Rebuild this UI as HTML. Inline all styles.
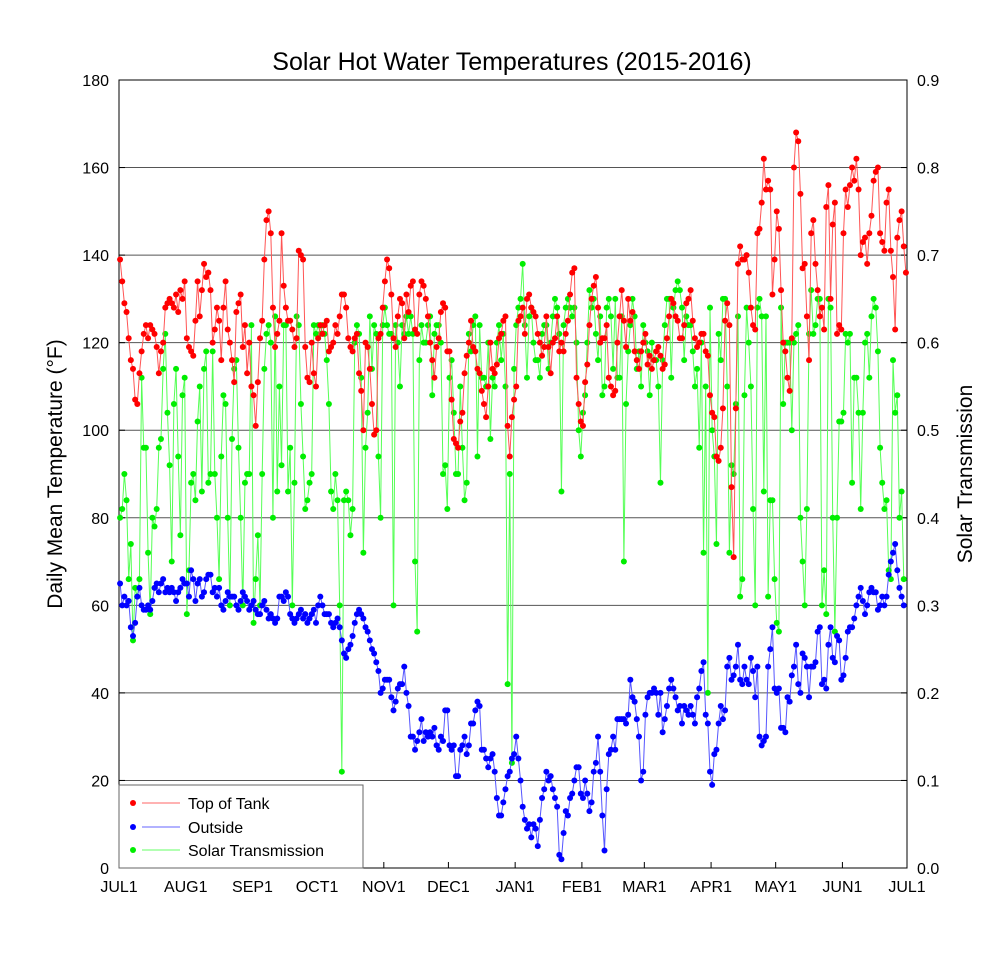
<!DOCTYPE html>
<html><head><meta charset="utf-8">
<style>
body{margin:0;background:#fff;font-family:"Liberation Sans",sans-serif;}
svg text{font-family:"Liberation Sans",sans-serif;fill:#000;}
</style></head>
<body>
<svg id="chart" width="1007" height="948" viewBox="0 0 1007 948" xmlns="http://www.w3.org/2000/svg">
<rect width="1007" height="948" fill="#fff"/>
<text x="512" y="70" font-size="25" text-anchor="middle">Solar Hot Water Temperatures (2015-2016)</text>
<g id="grid"></g>
<g id="axes"></g>
<g id="series"></g>
<text transform="translate(62,474) rotate(-90)" font-size="21" text-anchor="middle">Daily Mean Temperature (°F)</text>
<text transform="translate(972,474) rotate(-90)" font-size="21" text-anchor="middle">Solar Transmission</text>
<g>
<rect x="119" y="785" width="244" height="83" fill="#fff" stroke="#666" stroke-width="1"/>
<g><circle cx="133" cy="803" r="3" fill="#f00"/><line x1="142" y1="803" x2="180" y2="803" stroke="#f66"/><text x="188" y="809" font-size="16">Top of Tank</text></g>
<g><circle cx="133" cy="827" r="3" fill="#00f"/><line x1="142" y1="827" x2="180" y2="827" stroke="#66f"/><text x="188" y="833" font-size="16">Outside</text></g>
<g><circle cx="133" cy="850" r="3" fill="#0e0"/><line x1="142" y1="850" x2="180" y2="850" stroke="#6f6"/><text x="188" y="856" font-size="16">Solar Transmission</text></g>
</g>
</svg>
<script>
const monthLabels=["JUL1","AUG1","SEP1","OCT1","NOV1","DEC1","JAN1","FEB1","MAR1","APR1","MAY1","JUN1","JUL1"];
const monthDays=[0,31,62,92,123,153,184,215,244,275,305,336,366];
const leftTicks=[0,20,40,60,80,100,120,140,160,180];
const rightTicks=["0.0","0.1","0.2","0.3","0.4","0.5","0.6","0.7","0.8","0.9"];
const tankTemp=[139,134,129,127,121,116,114,107,106,113,118,122,124,121,124,123,122,119,113,118,120,128,129,130,129,128,131,127,132,130,134,
121,119,118,117,125,134,126,132,138,135,136,132,120,123,128,125,116,128,134,123,120,116,111,127,129,131,119,124,113,120,110,
108,101,111,121,125,139,148,150,145,128,119,122,125,145,133,128,125,125,123,119,121,141,140,139,119,112,111,120,113,110,
121,124,122,124,125,118,119,120,124,122,126,131,131,128,121,119,118,121,122,113,109,100,120,119,114,106,99,100,121,122,128,
134,139,137,131,121,119,126,130,129,121,131,127,133,134,123,122,131,134,133,130,126,120,116,112,119,121,127,129,128,118,
118,107,98,97,96,102,104,113,117,120,125,119,118,114,113,109,106,103,110,120,114,113,115,121,122,125,126,101,94,103,107,
110,125,126,128,122,130,131,128,127,126,122,120,117,119,126,119,113,120,121,126,118,120,118,122,125,131,136,137,112,106,102,
101,111,115,124,130,133,135,128,120,121,121,124,112,110,108,109,120,126,132,125,119,130,125,127,118,116,114,118,120,
122,115,117,114,116,118,119,117,114,115,121,126,130,129,126,125,121,121,124,129,130,132,125,121,119,120,122,122,118,117,108,
104,103,94,93,96,105,125,129,124,87,71,105,138,142,139,139,140,136,128,124,123,145,146,152,162,155,157,155,131,139,
150,146,132,120,118,112,109,121,160,168,166,154,137,138,126,116,145,148,138,132,126,128,123,151,156,130,147,152,122,124,123,
145,155,151,156,160,157,162,155,140,143,144,138,145,149,157,159,160,145,143,141,152,155,141,135,123,144,148,150,142,136];
const outsideTemp=[65,60,62,60,61,55,53,56,62,64,60,59,59,60,59,61,64,65,63,65,66,63,64,63,64,63,61,63,64,66,65,
65,62,68,66,61,65,66,62,63,66,67,67,63,64,62,64,60,59,61,63,62,62,62,60,59,61,63,62,61,59,60,
61,59,58,58,60,61,59,57,58,57,56,57,62,62,61,63,62,58,57,56,57,58,59,57,58,56,57,58,59,56,
60,62,60,58,58,58,56,55,56,57,55,52,49,48,50,51,53,56,58,59,58,57,55,54,52,50,49,47,45,40,41,
43,43,43,39,36,38,41,42,42,46,40,37,30,30,27,29,31,34,29,31,30,31,30,32,28,27,30,29,36,36,
28,27,28,21,21,27,28,30,26,28,33,33,36,38,37,27,27,25,23,25,26,22,16,12,12,15,18,21,22,25,26,
30,25,20,14,11,9,10,7,10,9,5,11,16,18,22,20,21,18,16,14,3,2,8,13,12,16,17,20,23,23,17,
16,20,17,13,15,22,24,30,22,12,4,18,26,27,30,27,34,34,34,34,33,35,43,39,38,34,30,20,
22,35,39,40,40,41,40,35,40,31,34,37,41,43,41,39,36,37,33,37,36,35,37,35,33,39,41,45,47,35,33,
22,19,26,27,33,37,34,36,46,48,43,44,46,51,43,42,46,43,42,48,45,39,46,30,28,29,30,46,50,55,
41,40,41,32,32,31,39,38,44,46,51,42,40,49,48,46,39,46,46,47,54,55,42,43,41,51,55,48,47,53,52,
43,44,48,54,55,55,57,60,62,64,61,58,60,63,64,63,63,59,60,62,60,62,67,70,72,74,68,64,62,60];
const solarTrans=[.40,.41,.45,.42,.33,.37,.26,.32,.31,.33,.56,.48,.48,.36,.29,.40,.39,.41,.48,.49,.57,.61,.52,.46,.35,.53,.57,.47,.38,.54,.56,
.29,.34,.44,.45,.42,.51,.55,.43,.57,.59,.44,.45,.59,.45,.40,.33,.47,.54,.53,.40,.30,.49,.57,.58,.48,.40,.30,.44,.45,.45,.62,
.28,.33,.38,.30,.45,.57,.61,.62,.60,.40,.63,.43,.55,.46,.62,.62,.43,.48,.30,.44,.63,.62,.53,.47,.41,.42,.44,.45,.62,.61,
.62,.61,.62,.61,.58,.53,.43,.41,.45,.42,.30,.11,.42,.43,.42,.38,.41,.60,.62,.61,.56,.36,.48,.52,.63,.57,.62,.61,.47,.40,.62,
.64,.62,.61,.61,.30,.62,.60,.55,.62,.61,.63,.61,.63,.61,.35,.27,.58,.62,.60,.60,.62,.63,.54,.61,.62,.62,.60,.45,.46,.41,
.56,.58,.52,.45,.45,.55,.48,.42,.44,.61,.59,.62,.63,.47,.62,.56,.56,.55,.60,.49,.56,.55,.60,.62,.58,.61,.55,.21,.45,.12,.57,
.62,.64,.65,.69,.62,.56,.63,.64,.60,.58,.58,.56,.61,.62,.62,.57,.60,.63,.65,.64,.61,.43,.62,.64,.65,.64,.63,.64,.60,.50,.47,
.52,.54,.60,.66,.64,.65,.61,.58,.63,.54,.55,.64,.65,.63,.57,.65,.56,.56,.63,.35,.53,.59,.62,.65,.63,.57,.59,.55,.62,
.60,.59,.54,.60,.58,.58,.55,.44,.58,.62,.65,.65,.56,.64,.66,.67,.66,.64,.58,.63,.62,.62,.59,.55,.57,.48,.60,.36,.55,.20,.64,
.50,.47,.37,.61,.58,.65,.65,.55,.36,.46,.45,.53,.63,.31,.33,.54,.64,.60,.55,.41,.30,.64,.65,.63,.43,.63,.31,.42,.42,.33,
.28,.27,.64,.53,.60,.60,.60,.50,.60,.61,.62,.40,.35,.30,.41,.61,.66,.61,.62,.65,.65,.30,.34,.29,.65,.64,.40,.27,.40,.51,.51,
.52,.61,.60,.61,.44,.56,.56,.52,.41,.52,.60,.61,.56,.63,.65,.64,.59,.48,.44,.41,.42,.34,.33,.58,.52,.54,.40,.43,.33];

const NS="http://www.w3.org/2000/svg";
const X0=119,X1=907,Y0=868,Y1=80;
function xDay(d){return X0+(X1-X0)*d/366;}
function yTemp(t){return Y0-(Y0-Y1)*t/180;}
function ySolar(s){return Y0-(Y0-Y1)*s/0.9;}
function mk(tag,attrs,parent){const e=document.createElementNS(NS,tag);for(const k in attrs)e.setAttribute(k,attrs[k]);parent.appendChild(e);return e;}
const grid=document.getElementById('grid'),axes=document.getElementById('axes'),series=document.getElementById('series');
leftTicks.forEach((t,i)=>{
  const y=yTemp(t);
  if(t>0&&t<180){const g=mk('line',{x1:X0,x2:X1,y1:y,y2:y,stroke:'#555','stroke-width':1},grid);
  
  }
  const lt=mk('text',{x:X0-10,y:y+6,'font-size':16,'text-anchor':'end'},axes);lt.textContent=t;
  
  
  const rt=mk('text',{x:X1+10,y:y+6,'font-size':16},axes);rt.textContent=rightTicks[i];
  
  
  mk('line',{x1:X0,x2:X0+6,y1:y,y2:y,stroke:'#000'},axes);
  mk('line',{x1:X1-6,x2:X1,y1:y,y2:y,stroke:'#000'},axes);
});
monthDays.forEach((d,i)=>{
  const x=xDay(d);
  mk('line',{x1:x,x2:x,y1:Y0,y2:Y0-6,stroke:'#000'},axes);
  const t=mk('text',{x:x,y:Y0+24,'font-size':16,'text-anchor':'middle'},axes);t.textContent=monthLabels[i];
  
  
});
const frame=mk('rect',{x:X0,y:Y1,width:X1-X0,height:Y0-Y1,fill:'none',stroke:'#000','stroke-width':1},axes);


function draw(arr,yf,line,dot,name){
  const g=mk('g',{},series);
  
  
  const n=Math.min(arr.length,366);
  let p='';for(let i=0;i<n;i++)p+=(i?'L':'M')+xDay(i+0.5).toFixed(2)+','+yf(arr[i]).toFixed(2);
  mk('path',{d:p,fill:'none',stroke:line,'stroke-width':1},g);
  for(let i=0;i<n;i++){const c=mk('circle',{cx:xDay(i+0.5),cy:yf(arr[i]),r:3,fill:dot},g);
    
    }
}
draw(solarTrans,ySolar,'#5f5','#0e0','solar-transmission-series');
draw(outsideTemp,yTemp,'#55f','#00f','outside-series');
draw(tankTemp,yTemp,'#f55','#f00','top-of-tank-series');
</script>
</body></html>
